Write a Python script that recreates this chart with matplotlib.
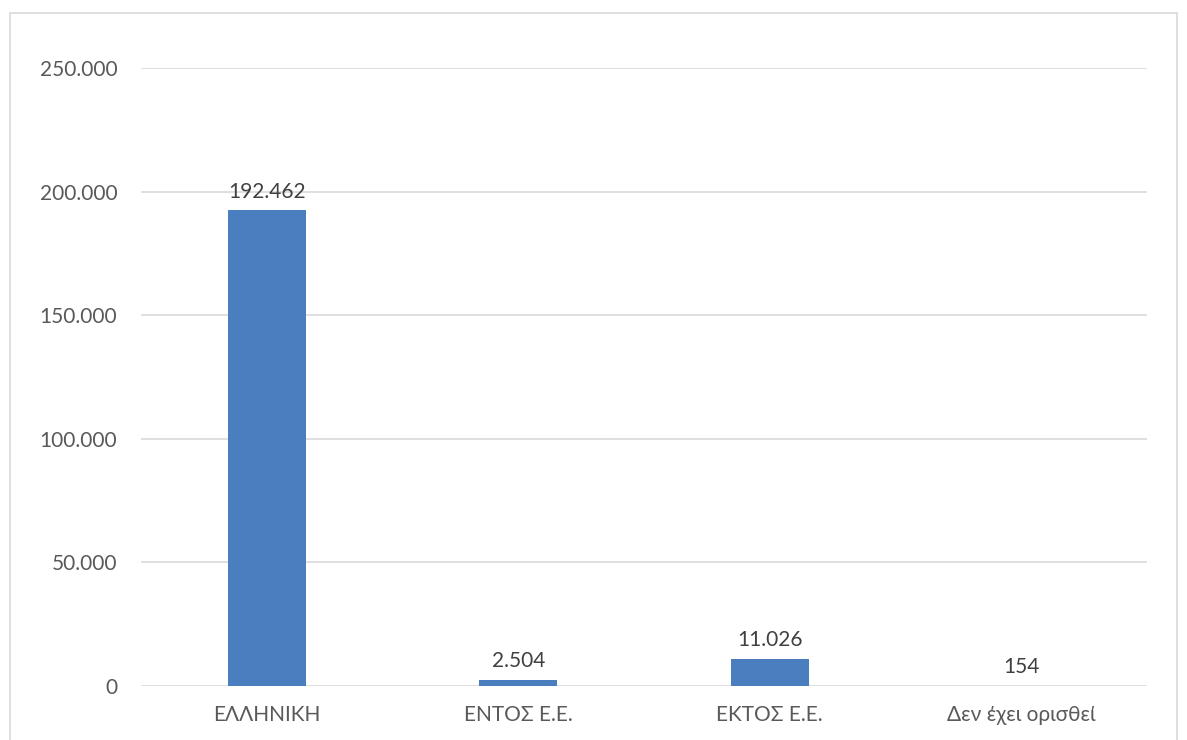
import matplotlib.pyplot as plt
from matplotlib.patches import Rectangle
import numpy as np

categories = ['ΕΛΛΗΝΙΚΗ', 'ΕΝΤΟΣ Ε.Ε.', 'ΕΚΤΟΣ Ε.Ε.', 'Δεν έχει ορισθεί']
values = [192462, 2504, 11026, 154]
yticks = [0, 50000, 100000, 150000, 200000, 250000]

plt.rcParams['font.family'] = ['Lato', 'DejaVu Sans']

def fmt(v):
    return f'{v:,}'.replace(',', '.')

fig = plt.figure(figsize=(11.87, 7.4), dpi=100)
ax = fig.add_axes([141 / 1187, 1 - 686 / 740, 1006 / 1187, 618 / 740])

x = np.arange(len(categories))
ax.bar(x, values, width=0.31, color='#4A7EBF', zorder=3)

ax.set_xlim(-0.5, len(categories) - 0.5)
ax.set_ylim(0, 250000)
ax.set_yticks(yticks)
ax.set_yticklabels([fmt(v) for v in yticks], fontsize=15, color='#595959')
ax.set_xticks(x)
ax.set_xticklabels(categories, fontsize=15, color='#595959')
ax.tick_params(axis='both', length=0)
ax.tick_params(axis='y', pad=17)
ax.tick_params(axis='x', pad=14)
ax.grid(axis='y', color='#D9D9D9', linewidth=1.2, zorder=0)
for s in ax.spines.values():
    s.set_visible(False)

for xi, v in zip(x, values):
    ax.annotate(fmt(v), (xi, v), xytext=(0, 6), textcoords='offset points',
                ha='center', va='bottom', fontsize=15, color='#404040')

# outer chart border
fig.patches.append(Rectangle((10 / 1187, -0.05), 1167 / 1187, 1.05 - 13 / 740,
                             transform=fig.transFigure, fill=False,
                             edgecolor='#D9D9D9', linewidth=1.2))

fig.savefig('out.png', dpi=100)
